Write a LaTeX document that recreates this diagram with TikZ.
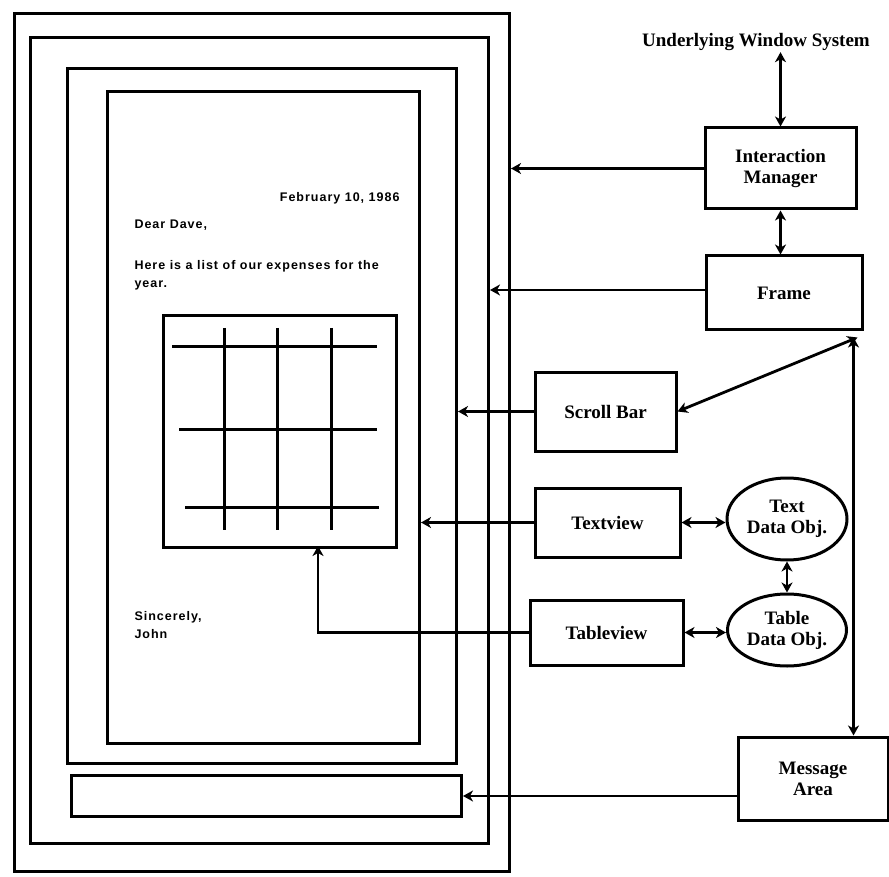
\documentclass[tikz,border=0pt]{standalone}
\usepackage{fontspec}
\setmainfont{Liberation Serif}
\newfontfamily\letterfont[LetterSpace=8]{Liberation Sans}
\usetikzlibrary{arrows.meta,shapes.geometric}
\begin{document}
\begin{tikzpicture}[x=1pt,y=-1pt,
  line width=3pt,
  >={Stealth[length=10pt,width=11pt,inset=3pt]},
  winbox/.style={draw,inner sep=0pt,anchor=north west},
  compbox/.style={draw,inner sep=0pt,align=center,font=\fontsize{19}{21}\selectfont\bfseries},
  dataobj/.style={draw,ellipse,inner sep=0pt,align=center,font=\fontsize{19}{21}\selectfont\bfseries},
  lettertext/.style={anchor=west,inner sep=0pt,align=left,font=\letterfont\fontsize{12.5}{18}\selectfont\bfseries},
  gridline/.style={line width=3pt},
  conn/.style={line width=2.8pt}]
\useasboundingbox (0,0) rectangle (889,877);
\fill[white] (0,0) rectangle (889,877);
% window nesting
\node[winbox,minimum width=495pt,minimum height=858pt] (outer) at (13,12) {};
\node[winbox,minimum width=458pt,minimum height=806pt] (win2) at (29,36) {};
\node[winbox,minimum width=389pt,minimum height=695pt] (win3) at (66,67) {};
\node[winbox,minimum width=312pt,minimum height=652pt] (page) at (106,90) {};
\node[winbox,minimum width=390pt,minimum height=41pt] (msgbar) at (70,774) {};
\node[winbox,minimum width=233pt,minimum height=232pt] (grid) at (162,314) {};
% grid lines
\draw[gridline] (172,347) -- (377,347);
\draw[gridline] (179,429) -- (377,429);
\draw[gridline] (185,507) -- (379,507);
\draw[gridline] (224,328) -- (224,530);
\draw[gridline] (277,328) -- (277,530);
\draw[gridline] (331,328) -- (331,530);
% letter text
\node[lettertext,anchor=east] (date) at (401,198) {February 10, 1986};
\node[lettertext] (dear) at (133,225) {Dear Dave,};
\node[lettertext,anchor=north west] (body) at (133,259) {Here is a list of our expenses for the\\year.};
\node[lettertext,anchor=north west] (sign) at (133,610) {Sincerely,\\John};
% components
\node[font=\fontsize{19}{21}\selectfont\bfseries,inner sep=0pt] (uws) at (756,42) {Underlying Window System};
\node[compbox,minimum width=151pt,minimum height=81pt] (im) at (780.5,168.5) {Interaction\\Manager};
\node[compbox,minimum width=156pt,minimum height=74pt] (frame) at (784,293) {Frame};
\node[compbox,minimum width=141pt,minimum height=79pt] (sb) at (605.5,411.5) {Scroll Bar};
\node[compbox,minimum width=145pt,minimum height=69pt] (tv) at (607.5,522.5) {Textview};
\node[compbox,minimum width=153pt,minimum height=65pt] (tab) at (606.5,632.5) {Tableview};
\node[compbox,minimum width=150pt,minimum height=83pt] (ma) at (813,778.5) {Message\\Area};
\node[dataobj,minimum width=120pt,minimum height=82pt] (tdo) at (787,519) {Text\\Data Obj.};
\node[dataobj,minimum width=119pt,minimum height=72pt] (tbo) at (787,630) {Table\\Data Obj.};
\coordinate (gridin) at (318,546);
\coordinate (fcorner) at ([xshift=-6pt,yshift=-6pt]frame.south east);
% connectors
\draw[conn,<->] (im.north) -- (im.north |- uws.south);
\draw[conn,<->] (im.south) -- (im.south |- frame.north);
\draw[conn,->] (im.west) -- (im.west -| outer.east);
\draw[conn,->] ([yshift=3pt]frame.west) -- ([yshift=3pt]frame.west -| win2.east);
\draw[conn,->] (sb.west) -- (sb.west -| win3.east);
\draw[conn,->] (tv.west) -- (tv.west -| page.east);
\draw[conn,->] (tab.west) -| (gridin);
\draw[conn,->] (msgbar.east -| ma.west) -- (msgbar.east);
\draw[conn,<->] (sb.east) -- (fcorner);
\draw[conn,<->] ([xshift=-4pt]fcorner) -- ([xshift=-4pt]fcorner |- ma.north);
\draw[conn,<->] (tv.east) -- (tdo.west |- tv.east);
\draw[conn,<->] (tab.east) -- (tbo.west |- tab.east);
\draw[conn,<->] (tdo.south) -- (tbo.north);
\end{tikzpicture}
\end{document}
